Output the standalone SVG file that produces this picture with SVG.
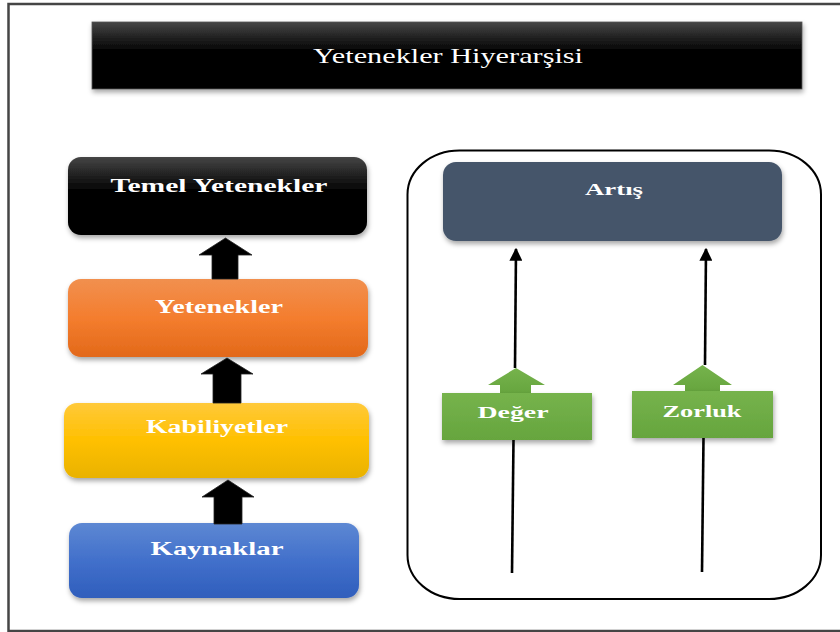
<svg xmlns="http://www.w3.org/2000/svg" width="840" height="632" viewBox="0 0 840 632">
  <defs>
    <linearGradient id="gBlack" x1="0" y1="0" x2="0" y2="1">
      <stop offset="0" stop-color="#454545"/>
      <stop offset="0.45" stop-color="#000"/>
      <stop offset="1" stop-color="#000"/>
    </linearGradient>
    <linearGradient id="gOrange" x1="0" y1="0" x2="0" y2="1">
      <stop offset="0" stop-color="#f1904f"/>
      <stop offset="0.5" stop-color="#f47d2e"/>
      <stop offset="1" stop-color="#e2691a"/>
    </linearGradient>
    <linearGradient id="gYellow" x1="0" y1="0" x2="0" y2="1">
      <stop offset="0" stop-color="#ffc93a"/>
      <stop offset="0.5" stop-color="#ffc000"/>
      <stop offset="1" stop-color="#e9b200"/>
    </linearGradient>
    <linearGradient id="gBlue" x1="0" y1="0" x2="0" y2="1">
      <stop offset="0" stop-color="#5d88d3"/>
      <stop offset="0.5" stop-color="#4270cb"/>
      <stop offset="1" stop-color="#2f5ebc"/>
    </linearGradient>
    <linearGradient id="gGreen" x1="0" y1="0" x2="0" y2="1">
      <stop offset="0" stop-color="#76b34c"/>
      <stop offset="1" stop-color="#66a53e"/>
    </linearGradient>
    <filter id="shadow" x="-10%" y="-20%" width="120%" height="150%">
      <feDropShadow dx="1" dy="3" stdDeviation="2.5" flood-color="#000" flood-opacity="0.35"/>
    </filter>
    <marker id="head" viewBox="0 0 10 10" refX="9" refY="5" markerWidth="5" markerHeight="5" orient="auto" markerUnits="strokeWidth">
      <path d="M0,0 L10,5 L0,10 Z" fill="#000"/>
    </marker>
    <style>
      .lbl { font-family: "Liberation Serif", "Times New Roman", serif; fill: #fff; text-anchor: middle; }
      .bold { font-weight: bold; }
      .block { fill: #000; stroke: #222; stroke-width: 0.8; }
      .green { fill: url(#gGreen); }
      .conn { fill: none; stroke: #000; stroke-width: 2.6; marker-end: url(#head); }
      .plain { fill: none; stroke: #000; stroke-width: 2.6; }
    </style>
  </defs>

  <!-- page frame, open on the right edge -->
  <rect x="8.5" y="4" width="850" height="627" fill="#fff" stroke="#454545" stroke-width="2.5"/>

  <!-- heading bar -->
  <g id="title">
    <rect x="92" y="22" width="710" height="67" fill="url(#gBlack)" stroke="#555" stroke-width="0.8" filter="url(#shadow)"/>
    <text class="lbl" x="448" y="63" font-size="21" textLength="270" lengthAdjust="spacingAndGlyphs">Yetenekler Hiyerarşisi</text>
  </g>

  <!-- left stack -->
  <g id="temel-yetenekler">
    <rect x="68" y="157" width="299" height="78" rx="13" fill="url(#gBlack)" filter="url(#shadow)"/>
    <text class="lbl bold" x="219" y="192" font-size="18" textLength="217" lengthAdjust="spacingAndGlyphs">Temel Yetenekler</text>
  </g>
  <g id="yetenekler">
    <rect x="68" y="279" width="300" height="78" rx="13" fill="url(#gOrange)" filter="url(#shadow)"/>
    <text class="lbl bold" x="219" y="313" font-size="18" textLength="128" lengthAdjust="spacingAndGlyphs">Yetenekler</text>
  </g>
  <g id="kabiliyetler">
    <rect x="64" y="403" width="305" height="75" rx="13" fill="url(#gYellow)" filter="url(#shadow)"/>
    <text class="lbl bold" x="217" y="433" font-size="18" textLength="142" lengthAdjust="spacingAndGlyphs">Kabiliyetler</text>
  </g>
  <g id="kaynaklar">
    <rect x="69" y="523" width="290" height="75" rx="13" fill="url(#gBlue)" filter="url(#shadow)"/>
    <text class="lbl bold" x="217" y="555" font-size="18" textLength="133" lengthAdjust="spacingAndGlyphs">Kaynaklar</text>
  </g>

  <!-- right panel -->
  <g id="panel">
    <rect x="407.5" y="150.5" width="413.5" height="448.5" rx="52" ry="44" fill="none" stroke="#000" stroke-width="2"/>
  </g>
  <g id="artis">
    <rect x="443" y="162" width="339" height="79" rx="13" fill="#44546a" filter="url(#shadow)"/>
    <text class="lbl bold" x="614" y="195" font-size="17" textLength="58" lengthAdjust="spacingAndGlyphs">Artış</text>
  </g>

  <!-- connectors -->
  <g id="connectors">
    <!-- block arrows between the stacked levels -->
    <path class="block" d="M225.5,238 L252,255 L238,255 L238,279 L212,279 L212,255 L199,255 Z"/>
    <path class="block" d="M227,358 L253,374 L241,374 L241,403 L213,403 L213,374 L201,374 Z"/>
    <path class="block" d="M228,480 L254,497 L242,497 L242,524 L214,524 L214,497 L202,497 Z"/>
    <!-- lines rising into Artış -->
    <line class="plain" x1="512" y1="573" x2="513.5" y2="440"/>
    <line class="conn" x1="515" y1="368" x2="516" y2="249"/>
    <line class="plain" x1="702" y1="572" x2="703.5" y2="438"/>
    <line class="conn" x1="705" y1="365" x2="706" y2="249"/>
  </g>

  <!-- green factor boxes with their arrow caps -->
  <g id="deger">
    <path class="green" d="M516,368 L545,385 L531,385 L531,394 L500,394 L500,385 L488,385 Z"/>
    <rect x="442" y="393" width="150" height="47" fill="url(#gGreen)" filter="url(#shadow)"/>
    <text class="lbl bold" x="513" y="418" font-size="17" textLength="71" lengthAdjust="spacingAndGlyphs">Değer</text>
  </g>
  <g id="zorluk">
    <path class="green" d="M702.5,365 L732,385 L720,385 L720,392 L685,392 L685,385 L673,385 Z"/>
    <rect x="632" y="391" width="141" height="47" fill="url(#gGreen)" filter="url(#shadow)"/>
    <text class="lbl bold" x="702" y="417" font-size="17" textLength="79" lengthAdjust="spacingAndGlyphs">Zorluk</text>
  </g>
</svg>
